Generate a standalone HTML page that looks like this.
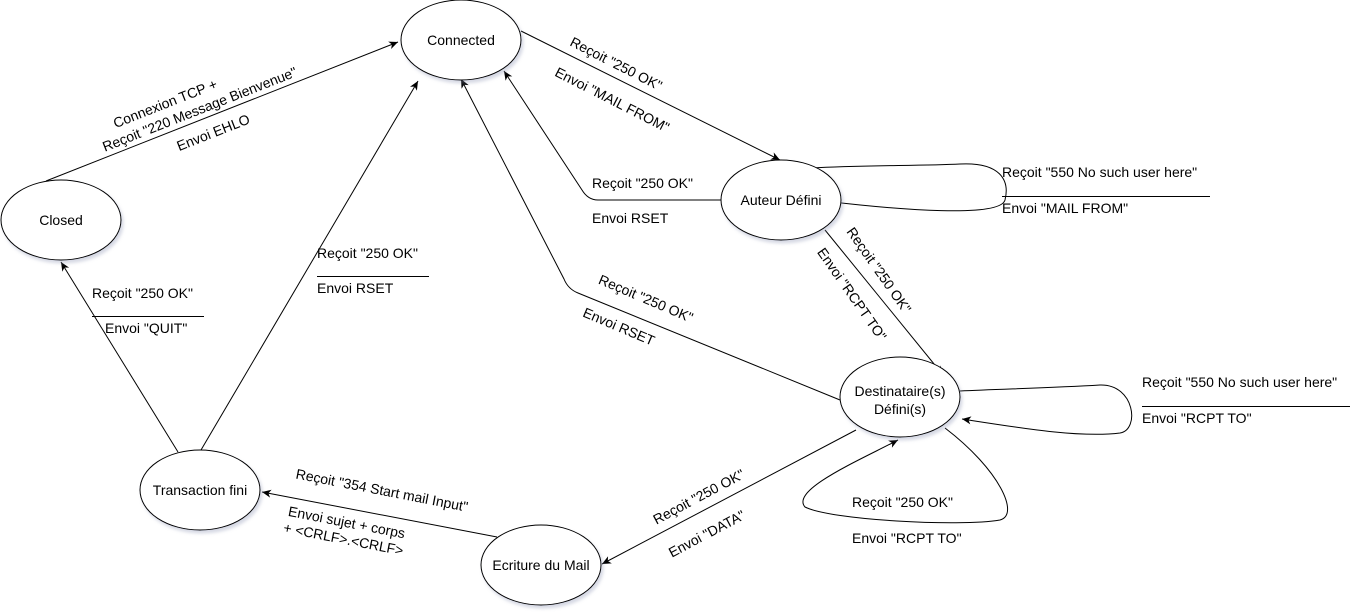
<!DOCTYPE html>
<html><head><meta charset="utf-8"><style>
html,body{margin:0;padding:0;background:#fff;}
svg{display:block;}
text{font-family:"Liberation Sans",sans-serif;font-size:14px;fill:#000;}
.e{fill:#fff;stroke:#000;stroke-width:1;}
.l{fill:none;stroke:#000;stroke-width:1;}
</style></head><body>
<svg width="1367" height="612" viewBox="0 0 1367 612" xmlns="http://www.w3.org/2000/svg">
<defs>
<marker id="a" markerWidth="10" markerHeight="10" refX="9" refY="5" orient="auto" markerUnits="userSpaceOnUse">
<path d="M0,1 L9,5 L0,9 L2.5,5 Z" fill="#000"/>
</marker>
<filter id="s" x="-5%" y="-5%" width="115%" height="120%"><feDropShadow dx="2" dy="3" stdDeviation="1.5" flood-color="#8890b0" flood-opacity="0.35"/></filter>
</defs>

<!-- edges -->
<path class="l" d="M46,181 L398,42" marker-end="url(#a)"/>
<path class="l" d="M521,31 L780,160" marker-end="url(#a)"/>
<path class="l" d="M721,200 L598,200 Q588,200 582,190 L504,71" marker-end="url(#a)"/>
<path class="l" d="M840,400 L578,293 Q568,289 564,279 L461,79" marker-end="url(#a)"/>
<path class="l" d="M825,230 L943,375" marker-end="url(#a)"/>
<path class="l" d="M812,168 C860,165 920,166 960,164 C1000,162 1010,180 1005,200 C1000,218 900,210 824,201" marker-end="url(#a)"/>
<path class="l" d="M960,391 C1000,389 1050,388 1100,385 C1135,384 1140,430 1120,433 C1080,438 1020,428 962,419" marker-end="url(#a)"/>
<path class="l" d="M945,428 C1000,470 1020,515 1000,520 C960,527 830,520 805,507 C790,490 860,460 898,440" marker-end="url(#a)"/>
<path class="l" d="M856,430 L602,564" marker-end="url(#a)"/>
<path class="l" d="M497,537 L262,492" marker-end="url(#a)"/>
<path class="l" d="M178,452 L61,262" marker-end="url(#a)"/>
<path class="l" d="M201,450 L418,81" marker-end="url(#a)"/>

<!-- separators -->
<path class="l" d="M92,316.5 H204 M317,276.5 H429 M1002,196.5 H1210 M1142,406.5 H1350"/>

<!-- nodes -->
<g filter="url(#s)">
<ellipse class="e" cx="461" cy="40" rx="60" ry="40"/>
<ellipse class="e" cx="61" cy="220" rx="60" ry="40"/>
<ellipse class="e" cx="781" cy="200" rx="60" ry="40"/>
<ellipse class="e" cx="900" cy="397" rx="60" ry="40"/>
<ellipse class="e" cx="200" cy="490" rx="60" ry="40"/>
<ellipse class="e" cx="541" cy="565" rx="60" ry="40"/>
</g>
<g text-anchor="middle">
<text x="461" y="45">Connected</text>
<text x="61" y="225">Closed</text>
<text x="781" y="205">Auteur Défini</text>
<text x="900" y="396">Destinataire(s)</text>
<text x="900" y="414">Défini(s)</text>
<text x="200" y="495">Transaction fini</text>
<text x="541" y="570">Ecriture du Mail</text>
</g>

<!-- labels -->
<g transform="translate(200,110) rotate(-21.5)" text-anchor="middle">
<text x="-30" y="-14">Connexion TCP +</text>
<text x="0" y="4">Reçoit "220 Message Bienvenue"</text>
</g>
<text transform="translate(215,137) rotate(-21.5)" text-anchor="middle">Envoi EHLO</text>

<text transform="translate(614,68) rotate(27)" text-anchor="middle">Reçoit "250 OK"</text>
<text transform="translate(610,104) rotate(27)" text-anchor="middle">Envoi "MAIL FROM"</text>

<text x="592" y="188">Reçoit "250 OK"</text>
<text x="592" y="223">Envoi RSET</text>

<text x="1002" y="177">Reçoit "550 No such user here"</text>
<text x="1002" y="213">Envoi "MAIL FROM"</text>

<text x="1142" y="387">Reçoit "550 No such user here"</text>
<text x="1142" y="423">Envoi "RCPT TO"</text>

<text transform="translate(875,273) rotate(55)" text-anchor="middle">Reçoit "250 OK"</text>
<text transform="translate(848,297) rotate(55)" text-anchor="middle">Envoi "RCPT TO"</text>

<text transform="translate(644,303) rotate(23)" text-anchor="middle">Reçoit "250 OK"</text>
<text transform="translate(617,331) rotate(23)" text-anchor="middle">Envoi RSET</text>

<text x="317" y="258">Reçoit "250 OK"</text>
<text x="317" y="293">Envoi RSET</text>

<text x="92" y="298">Reçoit "250 OK"</text>
<text x="105" y="333">Envoi "QUIT"</text>

<text x="852" y="507">Reçoit "250 OK"</text>
<text x="852" y="543">Envoi "RCPT TO"</text>

<text transform="translate(701,501) rotate(-28)" text-anchor="middle">Reçoit "250 OK"</text>
<text transform="translate(709,538) rotate(-28)" text-anchor="middle">Envoi "DATA"</text>

<text transform="translate(381,495) rotate(11)" text-anchor="middle">Reçoit "354 Start mail Input"</text>
<g transform="translate(345,531) rotate(11)" text-anchor="middle">
<text x="0" y="-4">Envoi sujet + corps</text>
<text x="0" y="13">+ &lt;CRLF&gt;.&lt;CRLF&gt;</text>
</g>
</svg>
</body></html>
